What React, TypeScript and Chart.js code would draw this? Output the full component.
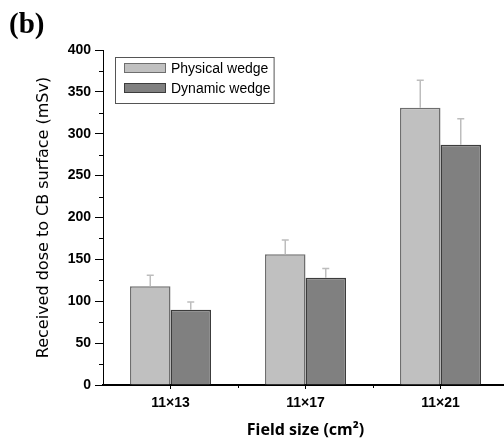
import React, { useEffect, useRef } from "react";
import { Chart, registerables } from "chart.js";

Chart.register(...registerables);

const categories = ["11×13", "11×17", "11×21"];
const seriesNames = ["Physical wedge", "Dynamic wedge"];
const physicalValues = [118, 156, 331];
const physicalErrors = [13, 17, 33];
const dynamicValues = [90, 128, 287];
const dynamicErrors = [9, 11, 31];
const yTicks = [0, 50, 100, 150, 200, 250, 300, 350, 400];

const errorBarPlugin = {
  id: "errorBars",
  afterDatasetsDraw(chart: any) {
    const ctx = chart.ctx;
    const yScale = chart.scales.y;
    chart.data.datasets.forEach((ds: any, di: number) => {
      const meta = chart.getDatasetMeta(di);
      meta.data.forEach((bar: any, i: number) => {
        const v = ds.data[i];
        const e = ds.errors[i];
        const yTop = yScale.getPixelForValue(v + e);
        ctx.save();
        ctx.strokeStyle = "#bdbdbd";
        ctx.lineWidth = 1.5;
        ctx.beginPath();
        ctx.moveTo(bar.x, bar.y);
        ctx.lineTo(bar.x, yTop);
        ctx.moveTo(bar.x - 3.5, yTop);
        ctx.lineTo(bar.x + 3.5, yTop);
        ctx.stroke();
        ctx.restore();
      });
    });
  },
};

const minorTickPlugin = {
  id: "minorTicks",
  afterDraw(chart: any) {
    const ctx = chart.ctx;
    const y = chart.scales.y;
    const x = chart.scales.x;
    ctx.save();
    ctx.strokeStyle = "#000";
    ctx.lineWidth = 1;
    for (let i = 0; i < yTicks.length - 1; i++) {
      const v = (yTicks[i] + yTicks[i + 1]) / 2;
      const py = Math.round(y.getPixelForValue(v)) + 0.5;
      ctx.beginPath();
      ctx.moveTo(x.left - 4, py);
      ctx.lineTo(x.left, py);
      ctx.stroke();
    }
    for (let i = 0; i < categories.length - 1; i++) {
      const px = Math.round((x.getPixelForValue(i) + x.getPixelForValue(i + 1)) / 2) + 0.5;
      ctx.beginPath();
      ctx.moveTo(px, y.bottom);
      ctx.lineTo(px, y.bottom + 3);
      ctx.stroke();
    }
    ctx.restore();
  },
};

const boxLegendPlugin = {
  id: "boxLegend",
  afterDraw(chart: any) {
    const ctx = chart.ctx;
    const area = chart.chartArea;
    const left = area.left + 12;
    const top = area.top + 7;
    const rowH = 20;
    const swW = 42;
    const swH = 10;
    ctx.save();
    ctx.font = "14px 'Liberation Sans', Arial, sans-serif";
    let maxW = 0;
    chart.data.datasets.forEach((ds: any) => {
      maxW = Math.max(maxW, ctx.measureText(ds.label).width);
    });
    const boxW = 9 + swW + 5 + maxW + 3;
    const boxH = 46;
    ctx.strokeStyle = "#555";
    ctx.lineWidth = 1;
    ctx.strokeRect(left + 0.5, top + 0.5, boxW, boxH);
    chart.data.datasets.forEach((ds: any, i: number) => {
      const sy = top + 6 + i * rowH;
      ctx.fillStyle = ds.backgroundColor;
      ctx.fillRect(left + 9, sy, swW, swH);
      ctx.strokeStyle = ds.borderColor;
      ctx.lineWidth = 1;
      ctx.strokeRect(left + 9.5, sy + 0.5, swW - 1, swH - 1);
      ctx.fillStyle = "#000";
      ctx.textBaseline = "middle";
      ctx.textAlign = "left";
      ctx.fillText(ds.label, left + 9 + swW + 5, sy + swH / 2 + 1);
    });
    ctx.restore();
  },
};

export default function App() {
  const ref = useRef<HTMLCanvasElement>(null);
  useEffect(() => {
    if (!ref.current) return;
    const chart = new Chart(ref.current, {
      type: "bar",
      data: {
        labels: categories,
        datasets: [
          {
            label: seriesNames[0],
            data: physicalValues,
            errors: physicalErrors,
            backgroundColor: "#c0c0c0",
            borderColor: "#6e6e6e",
            borderWidth: 1.5,
          } as any,
          {
            label: seriesNames[1],
            data: dynamicValues,
            errors: dynamicErrors,
            backgroundColor: "#808080",
            borderColor: "#3c3c3c",
            borderWidth: 1.5,
          } as any,
        ],
      },
      options: {
        responsive: false,
        animation: false,
        devicePixelRatio: 1,
        layout: { padding: { left: 30, top: 50, right: 0, bottom: 4 } },
        datasets: { bar: { categoryPercentage: 0.6, barPercentage: 1.0 } },
        plugins: {
          legend: { display: false },
          tooltip: { enabled: false },
        },
        scales: {
          x: {
            grid: {
              display: true,
              drawOnChartArea: false,
              drawTicks: true,
              tickLength: 4,
              offset: false,
              color: "#000",
            },
            border: { display: true, color: "#000", width: 2 },
            ticks: {
              color: "#000",
              padding: 6,
              font: { family: "'Liberation Sans', Arial, sans-serif", size: 14, weight: "bold" },
            },
            title: {
              display: true,
              text: "Field size (cm²)",
              color: "#000",
              padding: { top: 4, bottom: 4 },
              font: { family: "'Noto Sans', sans-serif", size: 16, weight: "bold" },
            },
            afterFit: (s: any) => {
              s.height = 59;
            },
          },
          y: {
            min: 0,
            max: 400,
            ticks: {
              stepSize: 50,
              color: "#000",
              padding: 4,
              font: { family: "'Liberation Sans', Arial, sans-serif", size: 14, weight: "bold" },
            },
            grid: {
              display: true,
              drawOnChartArea: false,
              drawTicks: true,
              tickLength: 8,
              color: "#000",
            },
            border: { display: true, color: "#000", width: 1 },
            title: {
              display: true,
              text: "Received dose to CB surface (mSv)",
              color: "#000",
              padding: { top: 4, bottom: 4 },
              font: { family: "'DejaVu Sans', sans-serif", size: 16, weight: "normal" },
            },
            afterFit: (s: any) => {
              s.width = 73;
            },
          },
        },
      },
      plugins: [errorBarPlugin, minorTickPlugin, boxLegendPlugin],
    });
    return () => chart.destroy();
  }, []);

  return (
    <div
      style={{
        position: "fixed",
        left: 0,
        top: 0,
        width: 504,
        height: 448,
        overflow: "hidden",
        background: "#fff",
      }}
    >
      <canvas ref={ref} width={508} height={448} style={{ display: "block" }} />
      <div
        style={{
          position: "absolute",
          left: 9,
          top: 7,
          fontFamily: "'Liberation Serif', 'Times New Roman', serif",
          fontWeight: "bold",
          fontSize: 29,
          lineHeight: "32px",
          color: "#000",
        }}
      >
        (b)
      </div>
    </div>
  );
}
